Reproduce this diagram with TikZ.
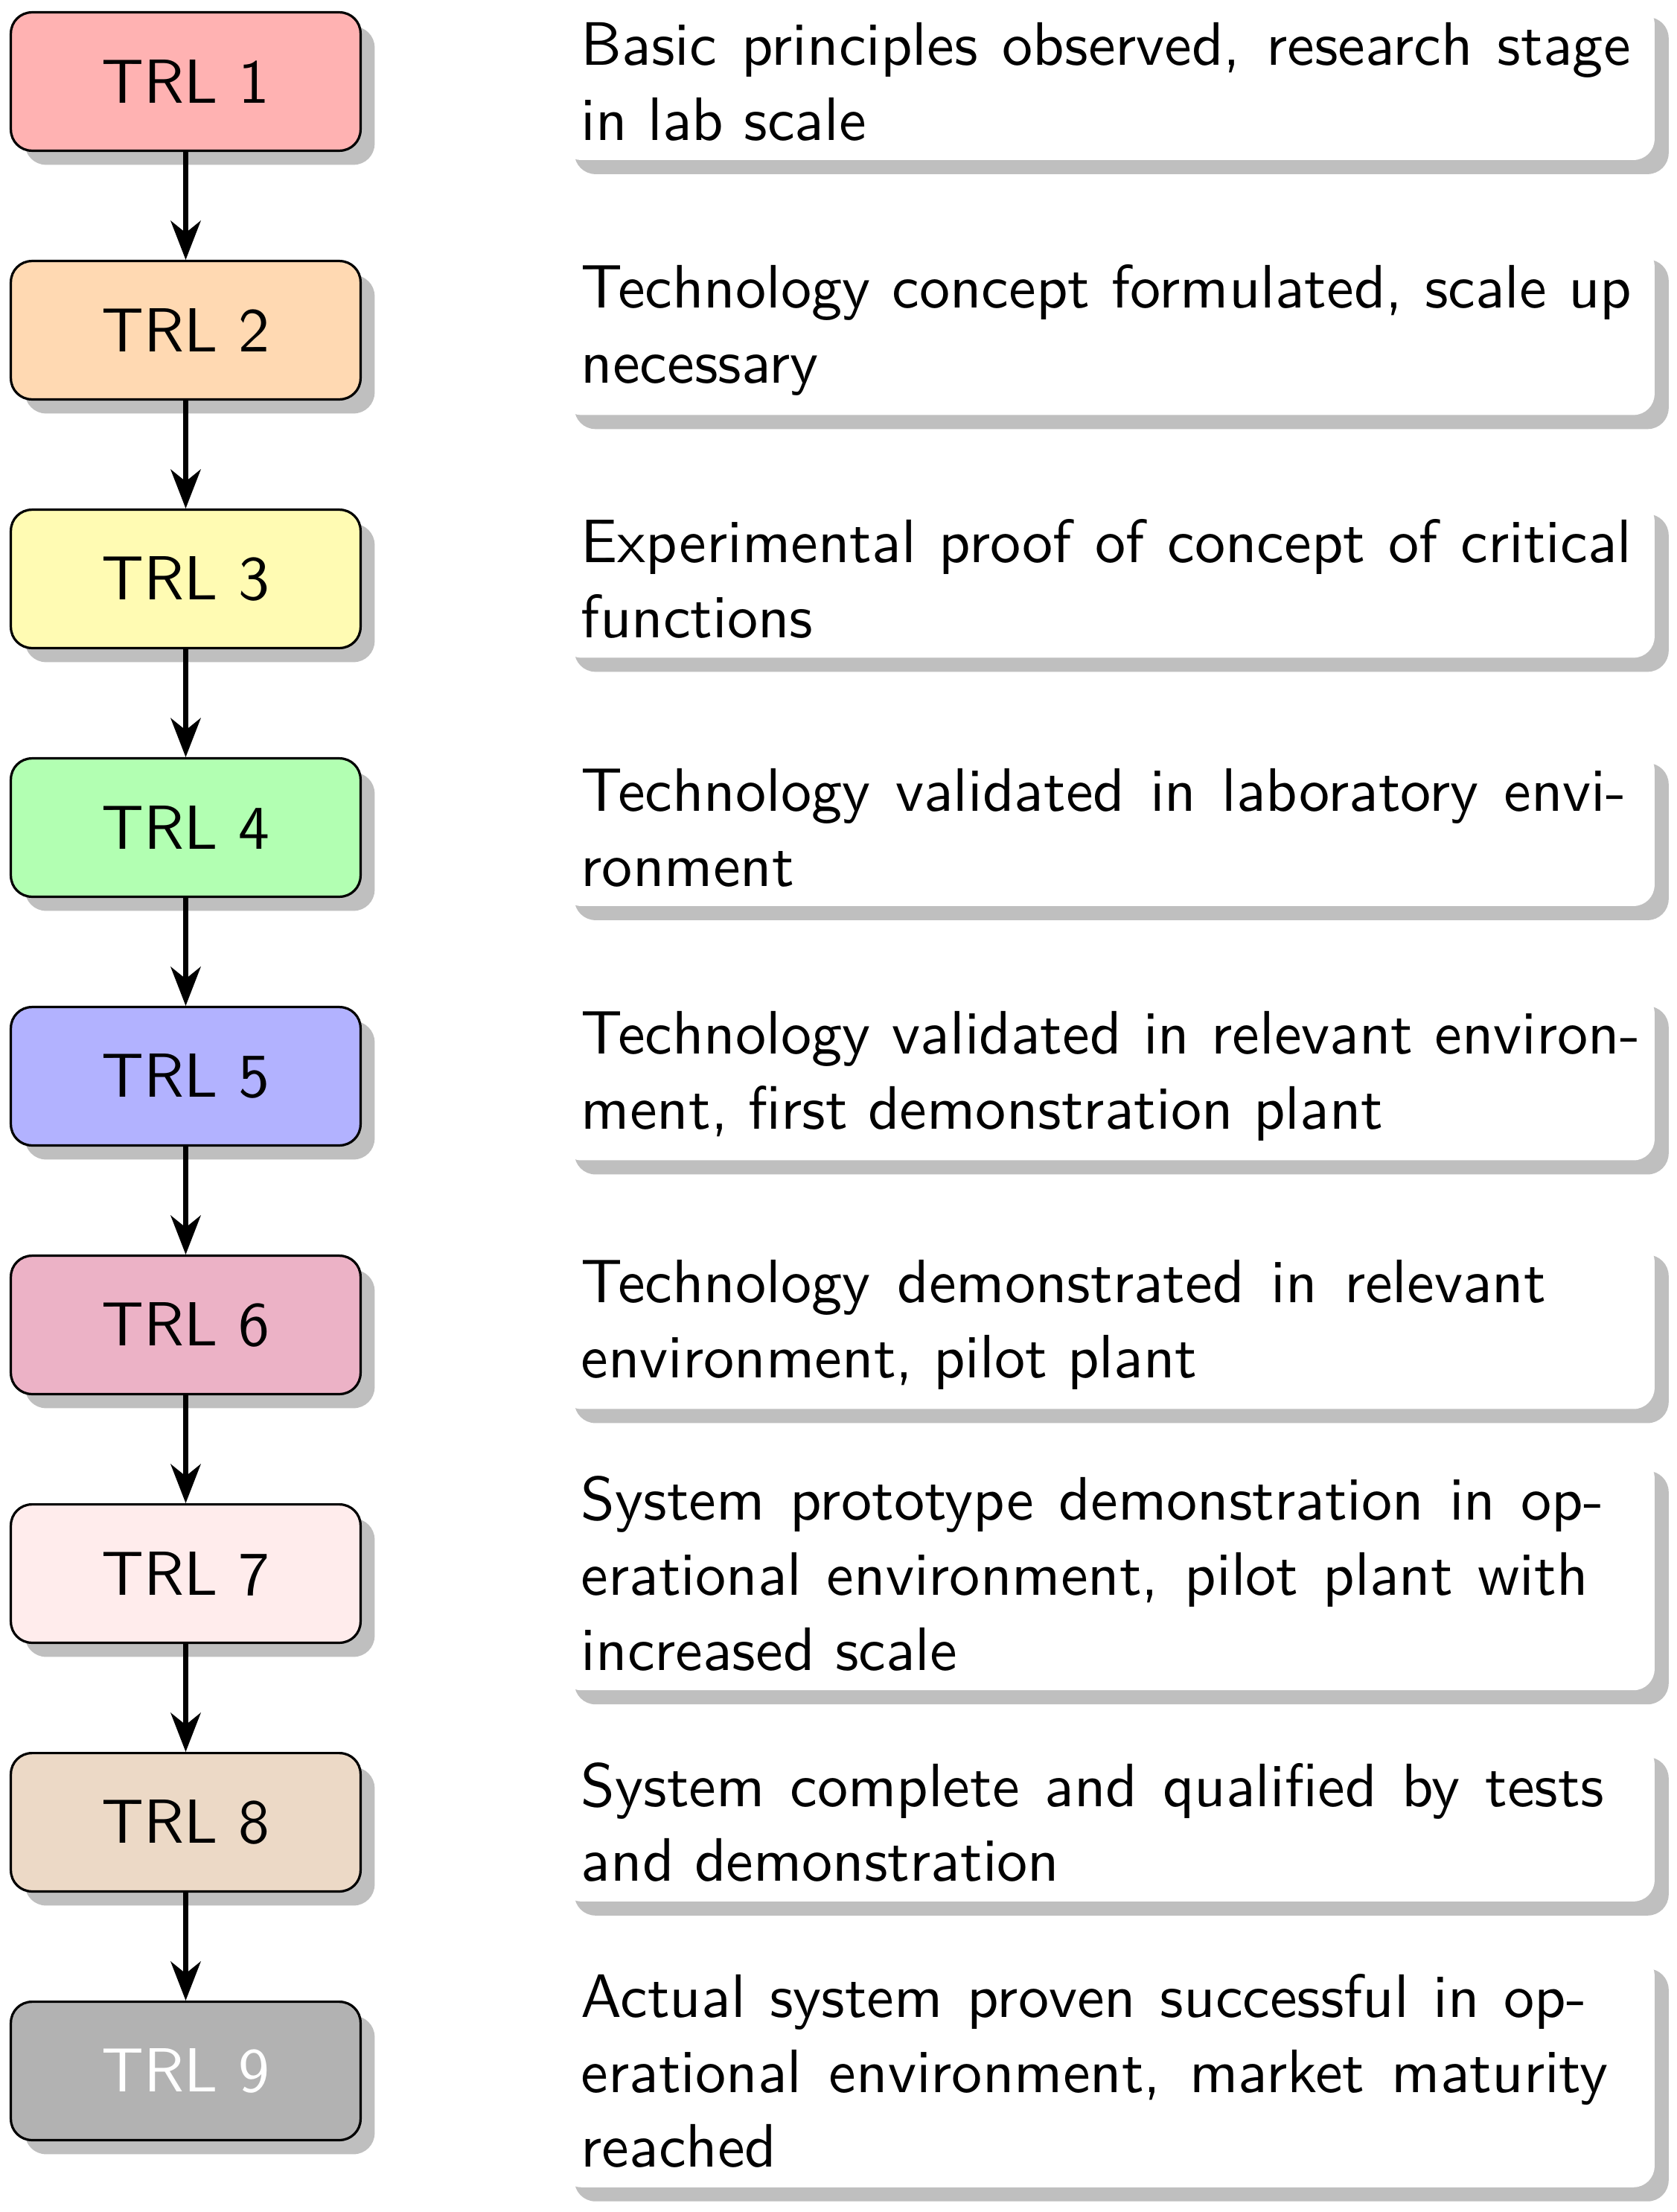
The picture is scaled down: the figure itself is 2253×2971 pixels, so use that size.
\documentclass[tikz,border=0pt]{standalone}
\usepackage{graphicx}
\usetikzlibrary{shadows,arrows.meta}
\newcommand\trltext[1]{\scalebox{2.0742}{\fontsize{10pt}{12.053pt}\selectfont\sffamily #1}}
\newcommand\desctext[1]{\scalebox{2.0431}{\fontsize{10pt}{12.236pt}\selectfont\sffamily
  \begin{minipage}[t]{171.7pt}\raggedright #1\end{minipage}}}
\newcommand\fitline[2]{\makebox[#1pt][s]{#2}}
\tikzset{
  trlbox/.style={draw, line width=0.8pt, rounded corners=7pt,
    minimum width=116.55pt, minimum height=46.1pt, inner sep=0pt,
    drop shadow={shadow xshift=4.7pt, shadow yshift=-4.7pt, fill=black!25, opacity=1}},
  descbox/.style={fill=white, rounded corners=7pt, anchor=west,
    inner xsep=6.95pt, inner ysep=6.45pt,
    drop shadow={shadow xshift=4.7pt, shadow yshift=-4.7pt, fill=black!25, opacity=1}},
  flowarrow/.style={line width=1.6pt, -{Stealth[length=13pt, width=10pt, inset=4pt]}}
}
\begin{document}
\begin{tikzpicture}[x=0.2481pt, y=-0.2481pt]
\useasboundingbox (0,0) rectangle (2253,2971);

\node[trlbox, fill=red!30]    (t1) at (249.5, 109.5) {\trltext{TRL 1}};
\node[trlbox, fill=orange!30] (t2) at (249.5, 443.5) {\trltext{TRL 2}};
\node[trlbox, fill=yellow!30] (t3) at (249.5, 777.5) {\trltext{TRL 3}};
\node[trlbox, fill=green!30]  (t4) at (249.5, 1111.5) {\trltext{TRL 4}};
\node[trlbox, fill=blue!30]   (t5) at (249.5, 1445.5) {\trltext{TRL 5}};
\node[trlbox, fill=purple!30] (t6) at (249.5, 1779.5) {\trltext{TRL 6}};
\node[trlbox, fill=pink!30]   (t7) at (249.5, 2113.5) {\trltext{TRL 7}};
\node[trlbox, fill=brown!30]  (t8) at (249.5, 2447.5) {\trltext{TRL 8}};
\node[trlbox, fill=gray!60, text=white] (t9) at (249.5, 2781.5) {\trltext{TRL 9}};

\node[descbox] (d1) at (752, 109.5) {\desctext{\fitline{171.19}{Basic principles observed, research stage}\\\mbox{in lab scale}}};
\node[descbox] (d2) at (752, 443.5) {\desctext{\fitline{171.42}{Technology concept formulated, scale up}\\\mbox{necessary}}};
\node[descbox] (d3) at (752, 777.5) {\desctext{\fitline{171.42}{Experimental proof of concept of critical}\\\mbox{functions}}};
\node[descbox] (d4) at (752, 1111.5) {\desctext{\fitline{170.50}{Technology validated in laboratory envi-}\\\mbox{ronment}}};
\node[descbox] (d5) at (752, 1445.5) {\desctext{\fitline{172.81}{Technology validated in relevant environ-}\\\mbox{ment, first demonstration plant}}};
\node[descbox] (d6) at (752, 1779.5) {\desctext{\fitline{157.39}{Technology demonstrated in relevant}\\\mbox{environment, pilot plant}}};
\node[descbox] (d7) at (752, 2113.5) {\desctext{\fitline{166.82}{System prototype demonstration in op-}\\\fitline{164.29}{erational environment, pilot plant with}\\\mbox{increased scale}}};
\node[descbox] (d8) at (752, 2447.5) {\desctext{\fitline{166.82}{System complete and qualified by tests}\\\mbox{and demonstration}}};
\node[descbox] (d9) at (752, 2781.5) {\desctext{\fitline{164.06}{Actual system proven successful in op-}\\\fitline{167.51}{erational environment, market maturity}\\\mbox{reached}}};

\draw[flowarrow] (t1) -- (t2);
\draw[flowarrow] (t2) -- (t3);
\draw[flowarrow] (t3) -- (t4);
\draw[flowarrow] (t4) -- (t5);
\draw[flowarrow] (t5) -- (t6);
\draw[flowarrow] (t6) -- (t7);
\draw[flowarrow] (t7) -- (t8);
\draw[flowarrow] (t8) -- (t9);
\end{tikzpicture}
\end{document}
